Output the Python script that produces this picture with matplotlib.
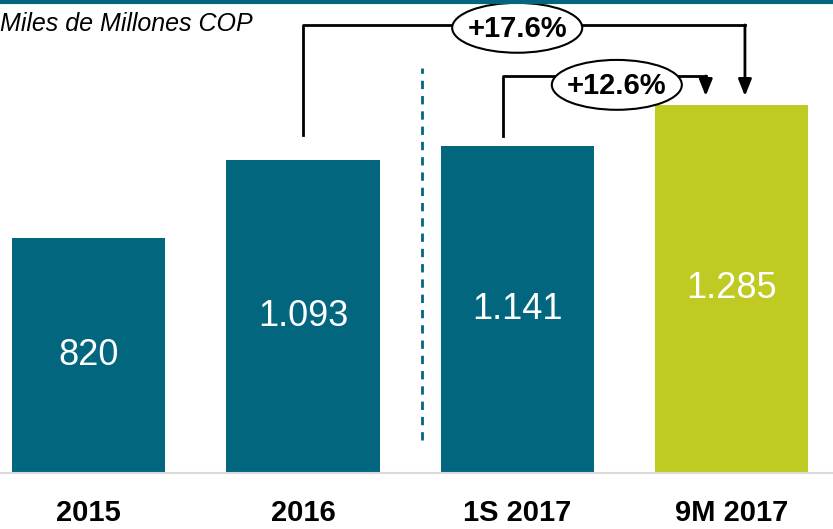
import matplotlib.pyplot as plt
from matplotlib.patches import Ellipse

# datos
periodos = ["2015", "2016", "1S 2017", "9M 2017"]
valores = [820, 1093, 1141, 1285]
etiquetas = ["820", "1.093", "1.141", "1.285"]
crec_anual = "+17.6%"
crec_semestre = "+12.6%"

TEAL = "#02667f"
LIMA = "#bfcb22"
colores = [TEAL, TEAL, TEAL, LIMA]
FAM = ["Liberation Sans", "DejaVu Sans"]

fig = plt.figure(figsize=(8.33, 5.29), dpi=100)
ax = fig.add_axes([0, 56 / 529, 1, 1 - 56 / 529])

x = range(len(periodos))
ax.bar(x, valores, width=0.715, color=colores, zorder=2)
ax.set_xlim(-0.414, 3.474)
ax.set_ylim(0, 1650)

for i, (v, t) in enumerate(zip(valores, etiquetas)):
    ax.text(i, v / 2, t, color="white", fontsize=26, ha="center", va="center", family=FAM)

ax.set_xticks(list(x))
ax.set_xticklabels(periodos, fontsize=21, fontweight="bold", family=FAM)
ax.tick_params(axis="x", length=0, pad=19)
ax.set_yticks([])
for s in ["top", "left", "right"]:
    ax.spines[s].set_visible(False)
ax.spines["bottom"].set_color("#d9d9d9")
ax.spines["bottom"].set_linewidth(1.5)

# linea divisoria punteada
ax.plot([1.555, 1.555], [115, 1413], color=TEAL, lw=2, ls=(0, (3, 2.5)), zorder=1)

flecha = dict(arrowstyle="-|>,head_width=0.4,head_length=1.0",
              color="black", lw=2, shrinkA=0, shrinkB=0)

# corchete 2016 -> 9M 2017
y_top = 1563
ax.plot([1, 1, 3.063], [valores[1] + 85, y_top, y_top], color="black", lw=2, zorder=3)
ax.annotate("", xy=(3.063, valores[3] + 30), xytext=(3.063, y_top),
            arrowprops=flecha, zorder=3)
ax.add_patch(Ellipse((2.0, 1553), 0.607, 174, facecolor="white", edgecolor="black",
                     lw=1.5, zorder=4))
ax.text(2.0, 1548, crec_anual, fontsize=21, fontweight="bold", ha="center",
        va="center", family=FAM, zorder=5)

# corchete 1S 2017 -> 9M 2017
y_mid = 1385
ax.plot([1.935, 1.935, 2.88], [valores[2] + 35, y_mid, y_mid], color="black", lw=2, zorder=3)
ax.annotate("", xy=(2.88, valores[3] + 30), xytext=(2.88, y_mid),
            arrowprops=flecha, zorder=3)
ax.add_patch(Ellipse((2.465, 1354), 0.607, 174, facecolor="white", edgecolor="black",
                     lw=1.5, zorder=4))
ax.text(2.465, 1349, crec_semestre, fontsize=21, fontweight="bold", ha="center",
        va="center", family=FAM, zorder=5)

# linea superior y unidad
fig.add_artist(plt.Line2D([0, 1], [1 - 1.5 / 529, 1 - 1.5 / 529], color=TEAL, lw=3))
fig.text(0.0, 1 - 24 / 529, "Miles de Millones COP", fontsize=18, style="italic",
         ha="left", va="center", family=FAM)

fig.savefig("out.png", dpi=100)
